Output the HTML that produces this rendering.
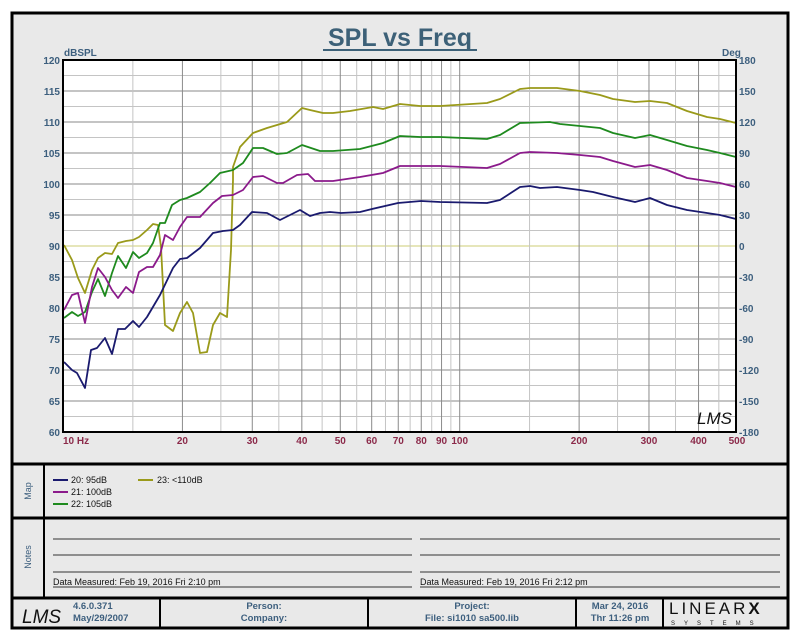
<!DOCTYPE html>
<html><head><meta charset="utf-8"><style>
body{margin:0;background:#fff}
svg{display:block}
text{font-family:"Liberation Sans",Arial,sans-serif}
</style></head><body>
<svg width="800" height="640" viewBox="0 0 800 640" xmlns="http://www.w3.org/2000/svg">
<rect x="12" y="13" width="776" height="615" fill="#e9e9e9" stroke="#000" stroke-width="3"/>
<text x="400" y="46" text-anchor="middle" font-size="25" font-weight="bold" fill="#3d6178">SPL vs Freq</text>
<line x1="323" y1="50" x2="477" y2="50" stroke="#3d6178" stroke-width="2"/>
<rect x="63" y="60" width="673" height="372" fill="#fff"/>
<g id="grid"></g>
<g font-size="10" font-weight="bold" fill="#3d5f7e">
<text x="64" y="56">dBSPL</text><text x="722" y="56">Deg</text>
<g text-anchor="end" id="yl"></g><g id="yr"></g>
</g>
<g font-size="10" font-weight="bold" fill="#8b2a4a" text-anchor="middle" id="xl"></g>
<g fill="none" stroke-width="1.8" stroke-linejoin="round">
<polyline stroke="#9a9a1a" points="64,245 72,260 78,278 85,293 92,270 98,258 105,253 112,254 118,243 126,241 133,240 139,237 147,230 153,224 158,225 161,247 165,325 173,331 180,313 187,302 193,313 200,353 207,352 213,325 220,313 227,317 231,250 233,180 233,167 240,147 253,133 267,128 277,125 287,122 302,108 310,110 323,113 333,113 350,111 373,107 383,109 400,104 420,106 440,106 487,103 500,99 520,89 530,88 557,88 580,91 600,95 613,99 635,102 650,101 667,103 687,111 707,117 720,119 736,123"/>
<polyline stroke="#1e8a1e" points="64,318 72,312 78,316 85,312 92,292 98,279 105,296 112,273 118,256 126,268 133,252 139,258 147,253 153,243 160,223 165,223 172,205 180,200 187,198 200,192 210,183 220,173 233,170 243,163 253,148 263,148 277,154 287,153 302,145 320,151 333,151 360,149 383,143 400,136 420,137 440,137 487,139 500,135 520,123 550,122 560,124 580,126 600,128 613,133 635,138 650,135 667,140 687,146 707,150 720,153 736,157"/>
<polyline stroke="#8b1a8b" points="64,310 72,295 78,293 85,323 92,287 98,268 105,277 112,290 118,298 126,287 133,293 139,272 147,267 153,267 160,255 165,235 173,240 180,227 187,217 200,217 213,203 222,196 233,195 243,190 253,177 263,176 277,183 283,183 297,175 308,174 315,181 333,181 360,177 383,173 400,166 420,166 440,166 487,168 500,164 520,153 530,152 557,153 580,155 600,157 613,161 635,167 650,165 667,170 687,178 707,181 720,183 736,187"/>
<polyline stroke="#1a1a6e" points="64,362 72,370 77,373 85,388 91,350 97,348 105,338 112,354 118,329 125,329 133,321 139,327 147,317 160,295 173,268 180,259 187,258 200,248 213,233 223,231 233,230 240,225 252,212 267,213 280,220 300,210 310,216 320,213 330,212 341,213 360,212 372,209 398,203 421,201 440,202 487,203 500,200 520,187 530,186 540,188 557,187 580,190 593,192 613,197 635,202 650,198 667,205 687,210 707,213 720,215 736,219"/>
</g>
<rect x="63" y="60" width="673" height="372" fill="none" stroke="#000" stroke-width="2"/>
<text x="697" y="424" font-size="17" font-style="italic" fill="#111" font-family="Liberation Serif,serif">LMS</text>
<!-- panels -->
<line x1="12" y1="464" x2="788" y2="464" stroke="#000" stroke-width="3"/>
<line x1="12" y1="518" x2="788" y2="518" stroke="#000" stroke-width="3"/>
<line x1="12" y1="598" x2="788" y2="598" stroke="#000" stroke-width="3"/>
<line x1="44" y1="464" x2="44" y2="598" stroke="#000" stroke-width="2"/>
<text transform="translate(31,491) rotate(-90)" text-anchor="middle" font-size="9" fill="#3d5f7e">Map</text>
<text transform="translate(31,557) rotate(-90)" text-anchor="middle" font-size="9" fill="#3d5f7e">Notes</text>
<g font-size="9" fill="#111">
<line x1="53" y1="480" x2="68" y2="480" stroke="#1a1a6e" stroke-width="2"/><text x="71" y="483">20: 95dB</text>
<line x1="53" y1="492" x2="68" y2="492" stroke="#8b1a8b" stroke-width="2"/><text x="71" y="495">21: 100dB</text>
<line x1="53" y1="504" x2="68" y2="504" stroke="#1e8a1e" stroke-width="2"/><text x="71" y="507">22: 105dB</text>
<line x1="138" y1="480" x2="153" y2="480" stroke="#9a9a1a" stroke-width="2"/><text x="157" y="483">23: &lt;110dB</text>
</g>
<g stroke="#333" stroke-width="1">
<line x1="53" y1="539" x2="412" y2="539"/><line x1="53" y1="555" x2="412" y2="555"/><line x1="53" y1="572" x2="412" y2="572"/><line x1="53" y1="587" x2="412" y2="587"/>
<line x1="420" y1="539" x2="780" y2="539"/><line x1="420" y1="555" x2="780" y2="555"/><line x1="420" y1="572" x2="780" y2="572"/><line x1="420" y1="587" x2="780" y2="587"/>
</g>
<g font-size="9" fill="#111">
<text x="53" y="585">Data Measured: Feb 19, 2016  Fri  2:10 pm</text>
<text x="420" y="585">Data Measured: Feb 19, 2016  Fri  2:12 pm</text>
</g>
<g stroke="#000" stroke-width="2">
<line x1="160" y1="598" x2="160" y2="628"/><line x1="368" y1="598" x2="368" y2="628"/><line x1="576" y1="598" x2="576" y2="628"/><line x1="663" y1="598" x2="663" y2="628"/>
</g>
<text x="22" y="623" font-size="19" font-style="italic" fill="#111" font-family="Liberation Serif,serif">LMS</text>
<g font-size="9.5" fill="#3d5f7e" font-weight="bold">
<text x="73" y="609">4.6.0.371</text><text x="73" y="621">May/29/2007</text>
<text x="264" y="609" text-anchor="middle">Person:</text><text x="264" y="621" text-anchor="middle">Company:</text>
<text x="472" y="609" text-anchor="middle">Project:</text><text x="472" y="621" text-anchor="middle">File: si1010 sa500.lib</text>
<text x="620" y="609" text-anchor="middle">Mar 24, 2016</text><text x="620" y="621" text-anchor="middle">Thr 11:26 pm</text>
</g>
<text x="669" y="614" font-size="17" fill="#111" letter-spacing="3" font-family="Liberation Serif,serif">LINEAR<tspan font-weight="bold" font-family="Liberation Sans,sans-serif">X</tspan></text>
<text x="671" y="625" font-size="6" fill="#111" letter-spacing="9">SYSTEMS</text>
<script>
(function(){
var ns="http://www.w3.org/2000/svg";
function el(p,t,a,txt){var e=document.createElementNS(ns,t);for(var k in a)e.setAttribute(k,a[k]);if(txt!=null)e.textContent=txt;p.appendChild(e);return e;}
var g=document.getElementById('grid');
function X(f){return 63+396.7*Math.log10(f/10);}
function Y(v){return 60+(120-v)*6.2;}
for(var v=60;v<=120;v+=2.5){var maj=(v%5==0);el(g,'line',{x1:63,x2:736,y1:Y(v),y2:Y(v),stroke:maj?'#8a8a8a':'#c4c4c4','stroke-width':1});}
el(g,'line',{x1:63,x2:736,y1:Y(90),y2:Y(90),stroke:'#d8d890','stroke-width':1.2});
var fs=[];for(var f=15;f<100;f+=5)fs.push(f);for(f=150;f<500;f+=50)fs.push(f);
fs.forEach(function(f){var maj=(f<100?f%10==0:f%100==0);el(g,'line',{x1:X(f),x2:X(f),y1:60,y2:432,stroke:maj?'#8a8a8a':'#c4c4c4','stroke-width':1});});
el(g,'line',{x1:X(100),x2:X(100),y1:60,y2:432,stroke:'#8a8a8a','stroke-width':1});
var yl=document.getElementById('yl'),yr=document.getElementById('yr');
for(v=60;v<=120;v+=5){el(yl,'text',{x:60,y:Y(v)+4},String(v));var d=(v-90)*6;el(yr,'text',{x:739,y:Y(v)+4},String(d));}
var xl=document.getElementById('xl');
el(xl,'text',{x:63,y:444,'text-anchor':'start'},'10  Hz');
[20,30,40,50,60,70,80,90,100,200,300,400,500].forEach(function(f){el(xl,'text',{x:X(f),y:444},String(f));});
})();
</script>
</svg>
</body></html>
